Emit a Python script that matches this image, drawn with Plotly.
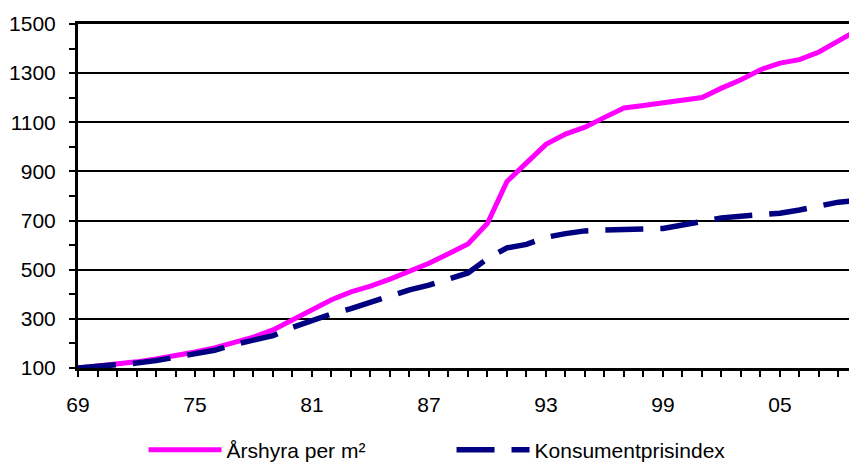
import plotly.graph_objects as go

years = list(range(1969, 2010))
arshyra = [100, 107, 115, 125, 137, 150, 165, 182, 202, 226,
           255, 296, 338, 378, 410, 433, 462, 494, 526, 565,
           605, 689, 859, 935, 1010, 1052, 1080, 1120, 1158, 1168,
           1178, 1188, 1201, 1239, 1273, 1314, 1341, 1355, 1386, 1431,
           1477]
kpi = [100, 105, 112, 120, 130, 143, 157, 172, 195, 214,
       232, 265, 293, 320, 342, 368, 396, 418, 437, 460,
       487, 545, 589, 603, 632, 647, 658, 662, 663, 663,
       668, 682, 696, 711, 718, 722, 730, 743, 757, 775,
       782]
x_tickvals = [1969, 1975, 1981, 1987, 1993, 1999, 2005]
x_ticktext = ["69", "75", "81", "87", "93", "99", "05"]
y_tickvals = [100, 300, 500, 700, 900, 1100, 1300, 1500]

FONT = "Liberation Sans, Arial, sans-serif"

fig = go.Figure()
fig.add_trace(go.Scatter(
    x=years, y=arshyra, mode="lines", name="Årshyra per m²",
    line=dict(color="#FF00FF", width=5),
))
fig.add_trace(go.Scatter(
    x=years, y=kpi, mode="lines", name="Konsumentprisindex",
    line=dict(color="#000080", width=5.5, dash="38px,17px"),
))

fig.update_layout(
    width=849, height=464,
    margin=dict(l=78, r=0, t=24, b=96, autoexpand=False),
    paper_bgcolor="white", plot_bgcolor="white",
    font=dict(family=FONT, size=21, color="black"),
    showlegend=True,
    legend=dict(
        orientation="h", x=0.085, xanchor="left", y=-0.2385, yanchor="middle",
        font=dict(family=FONT, size=21, color="black"),
        itemwidth=73, entrywidth=220, entrywidthmode="pixels",
        bgcolor="rgba(0,0,0,0)",
    ),
    xaxis=dict(
        range=[1969, 2008.54], showgrid=False, zeroline=False,
        tickmode="array", tickvals=x_tickvals, ticktext=x_ticktext,
        ticks="outside", ticklen=6, tickwidth=1.5, tickcolor="black",
        ticklabelstandoff=10,
        minor=dict(dtick=1, tick0=1969, ticks="outside", ticklen=6,
                   tickwidth=1.5, tickcolor="black", showgrid=False),
        showline=True, linecolor="black", linewidth=3, mirror=True,
    ),
    yaxis=dict(
        range=[100, 1500], zeroline=False,
        tickmode="array", tickvals=y_tickvals,
        showgrid=True, gridcolor="black", gridwidth=1.5,
        ticks="outside", ticklen=6, tickwidth=1.5, tickcolor="black",
        ticklabelstandoff=9,
        minor=dict(dtick=100, tick0=100, ticks="outside", ticklen=6,
                   tickwidth=1.5, tickcolor="black", showgrid=False),
        showline=True, linecolor="black", linewidth=3, mirror=False,
    ),
)

fig.write_html(
    "out.html",
    config={"displayModeBar": False},
    post_script="document.body.style.margin='0';document.body.style.overflow='hidden';",
)
